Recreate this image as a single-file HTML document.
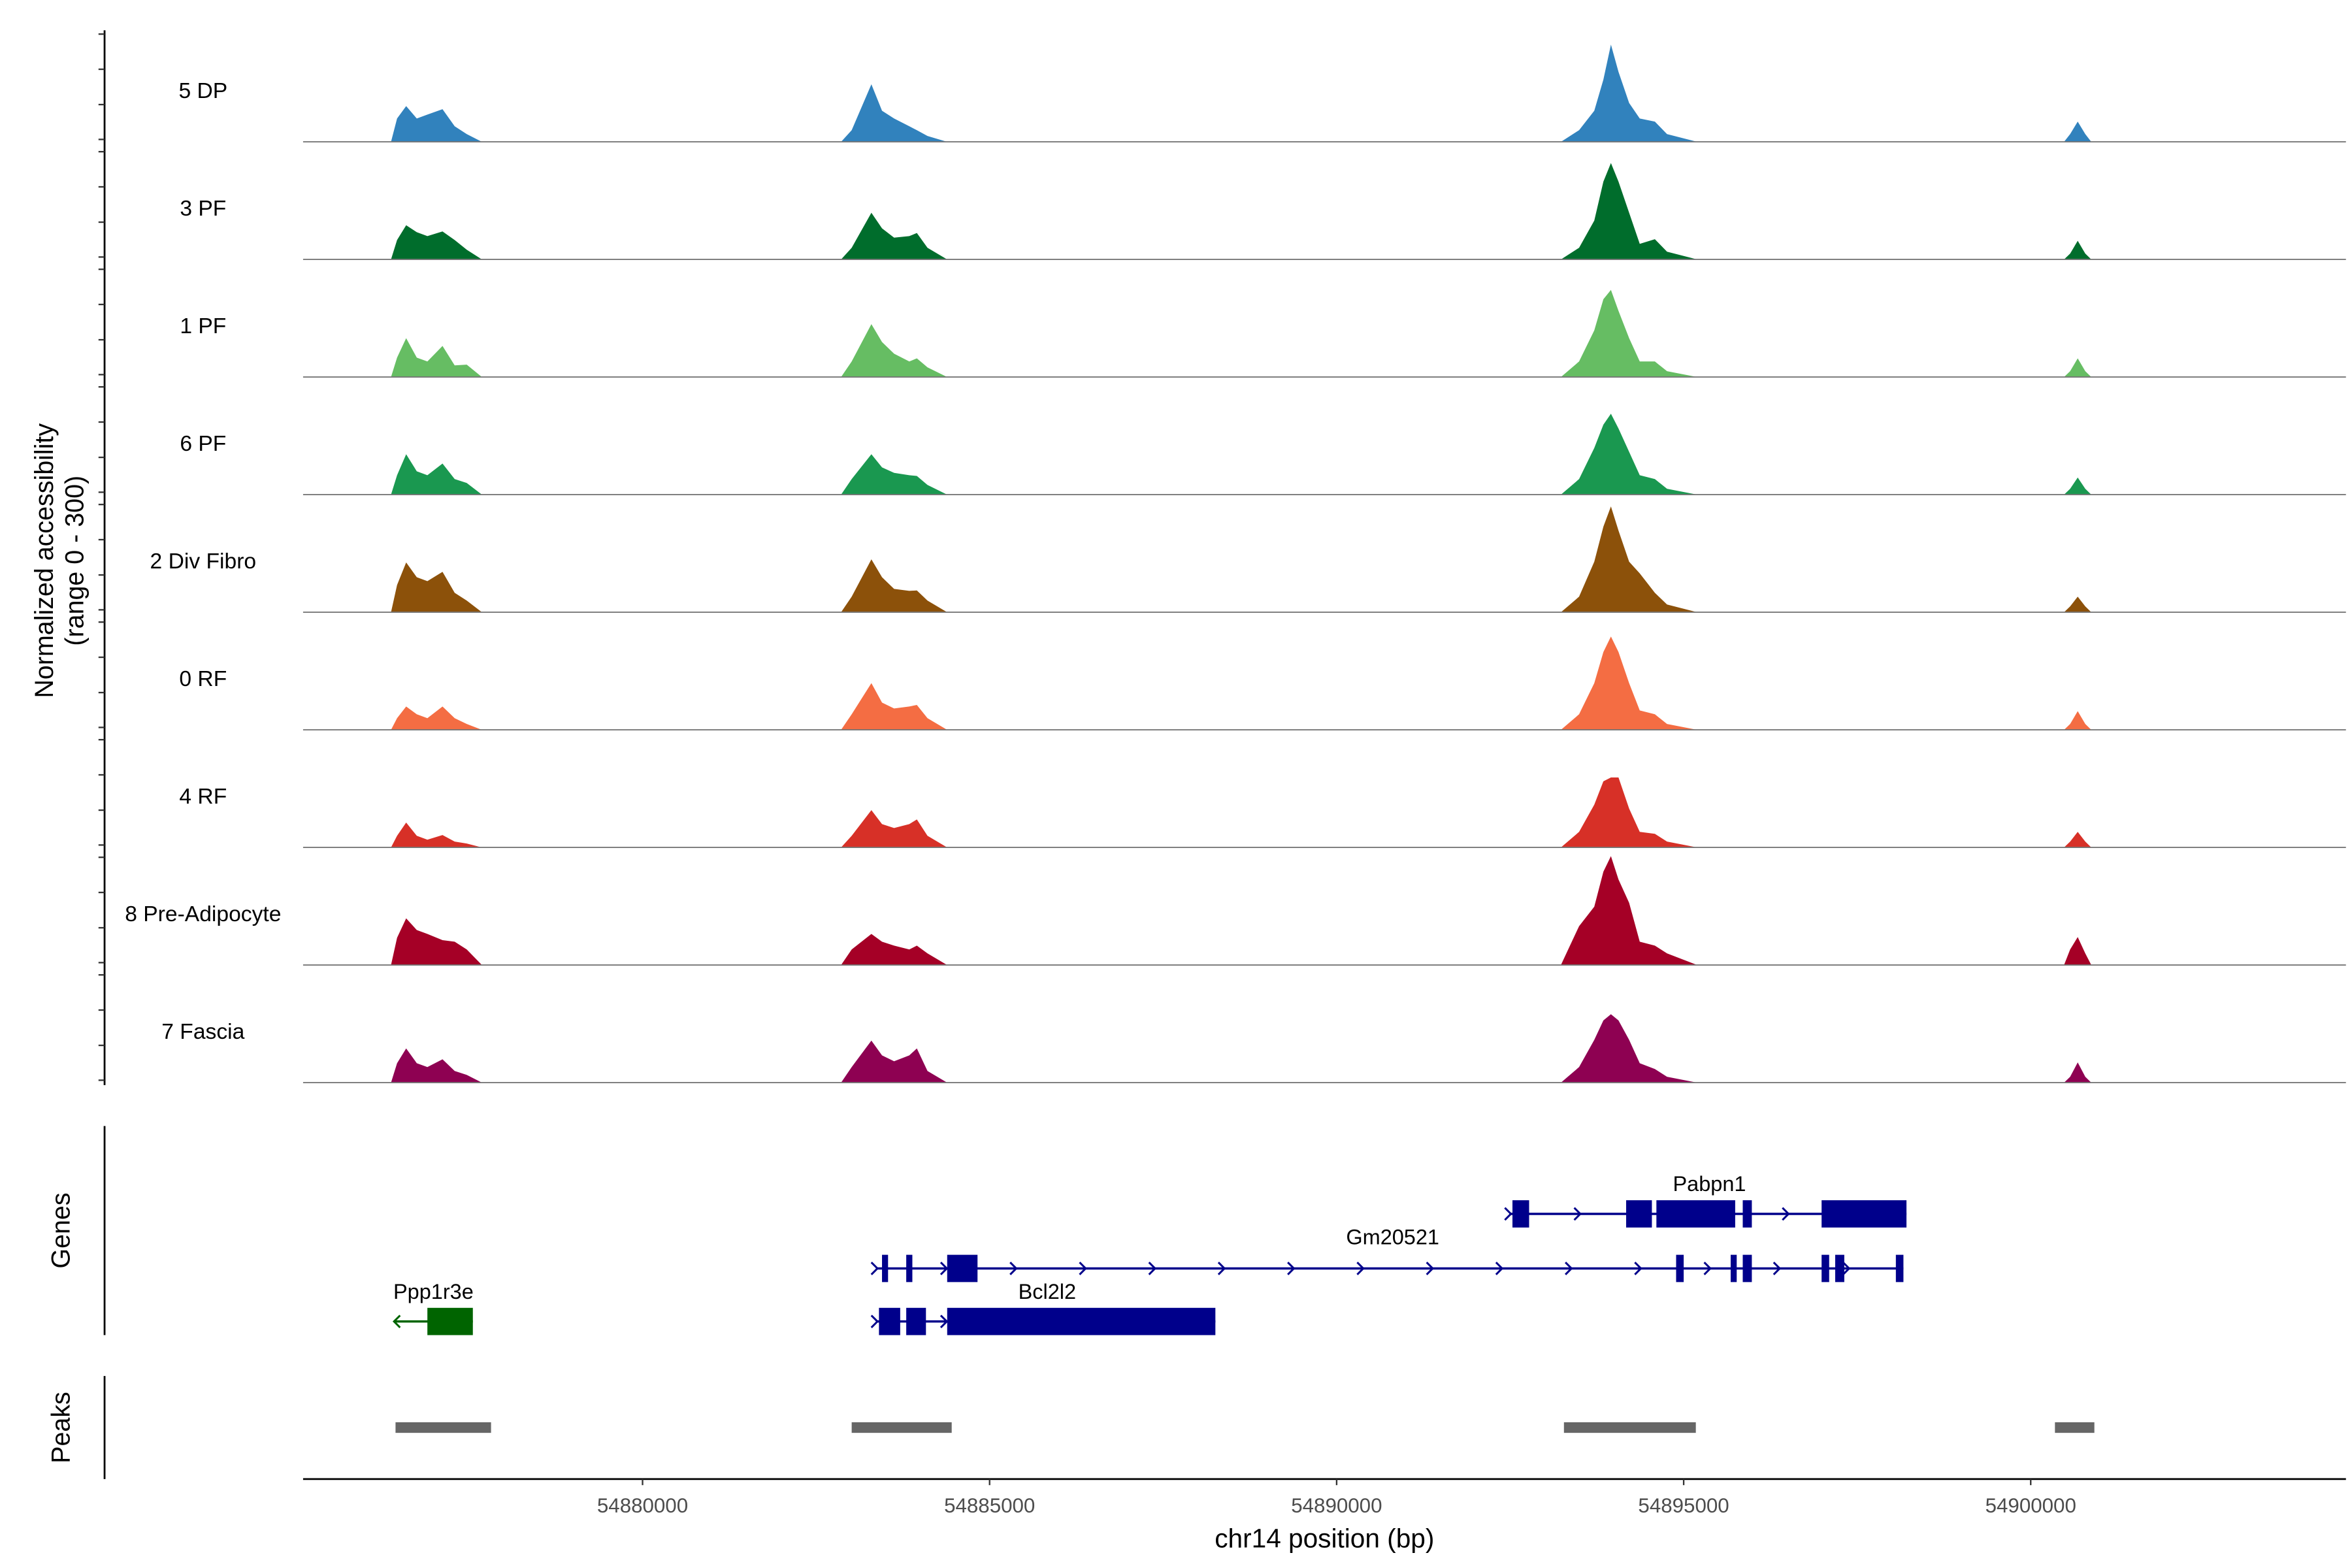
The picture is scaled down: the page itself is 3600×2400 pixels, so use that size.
<!DOCTYPE html>
<html><head><meta charset="utf-8"><style>
html,body{margin:0;padding:0;background:#fff;}
svg{display:block;font-family:"Liberation Sans",Arial,sans-serif;}
</style></head><body>
<svg id="chart" width="3600" height="2400" viewBox="0 0 1552 1034.67" preserveAspectRatio="none" xmlns="http://www.w3.org/2000/svg"></svg>
<script>
const trackNames = ["5 DP","3 PF","1 PF","6 PF","2 Div Fibro","0 RF","4 RF","8 Pre-Adipocyte","7 Fascia"];
const trackColors = ["#3182bd","#006d2c","#66bd63","#1a9850","#8c510a","#f46d43","#d73027","#a50026","#8e0152"];
const positions = [54876376,54876463,54876594,54876747,54876900,54877118,54877293,54877467,54877686,
 54882860,54883013,54883297,54883450,54883624,54883843,54883952,54884105,54884389,
 54893231,54893493,54893712,54893843,54893952,54894061,54894214,54894367,54894585,54894760,54895196,
 54900480,54900568,54900677,54900786,54900873];
const vDP  = [0,60,92,60,70,84,40,20,0, 0,30,148,80,60,40,30,15,0, 0,30,80,160,250,180,100,60,52,20,0, 0,20,52,20,0];
const vPF3 = [0,50,88,70,60,72,50,25,0, 0,30,120,80,56,60,68,30,0, 0,30,100,200,248,200,120,40,52,20,0, 0,15,48,15,0];
const vPF1 = [0,50,100,50,40,80,30,32,0, 0,40,136,90,60,40,48,25,0, 0,40,120,200,224,170,100,40,40,15,0, 0,15,48,15,0];
const vPF6 = [0,50,104,60,50,80,40,30,0, 0,40,104,70,56,50,48,25,0, 0,40,120,180,208,170,110,50,40,15,0, 0,15,44,15,0];
const vDF  = [0,70,128,90,80,104,50,30,0, 0,40,136,90,60,55,56,30,0, 0,40,130,220,272,210,130,100,50,20,0, 0,15,40,15,0];
const vRF0 = [0,30,60,40,30,60,30,15,0, 0,40,120,70,55,60,64,30,0, 0,40,120,200,240,200,120,50,40,15,0, 0,15,48,15,0];
const vRF4 = [0,30,64,30,20,32,15,10,0, 0,30,96,60,50,60,72,30,0, 0,40,110,170,180,180,100,40,35,15,0, 0,15,40,15,0];
const vPA  = [0,70,120,90,80,64,60,40,0, 0,40,80,60,50,40,50,30,0, 0,100,150,240,280,220,160,60,50,30,0, 0,40,72,30,0];
const vFA  = [0,50,88,50,40,60,30,20,0, 0,40,108,70,55,70,88,30,0, 0,40,110,160,176,160,110,50,35,15,0, 0,15,52,15,0];
const trackValues = [vDP,vPF3,vPF1,vPF6,vDF,vRF0,vRF4,vPA,vFA];
const xTicks = [54880000,54885000,54890000,54895000,54900000];
const xTickLabels = ["54880000","54885000","54890000","54895000","54900000"];
const geneNames = ["Pabpn1","Gm20521","Bcl2l2","Ppp1r3e"];
const geneSpans = [[54892489,54898210],[54883362,54898166],[54883362,54888253],[54876419,54877555]];
const geneExons = [
 [[54892533,54892773],[54894171,54894542],[54894607,54895742],[54895851,54895982],[54896987,54898210]],
 [[54883450,54883537],[54883799,54883887],[54884389,54884826],[54894891,54895000],[54895677,54895764],[54895851,54895982],[54896987,54897096],[54897183,54897314],[54898057,54898166]],
 [[54883406,54883712],[54883799,54884083],[54884389,54888253]],
 [[54876900,54877555]]];
const geneStrand = ["+","+","+","-"];
const peakStarts = [54876441,54883013,54893275,54900349];
const peakEnds = [54877817,54884454,54895175,54900917];

const svg = document.getElementById('chart');
const NS = "http://www.w3.org/2000/svg";
function mk(tag, attrs, parent){const e=document.createElementNS(NS,tag);for(const k in attrs)e.setAttribute(k,attrs[k]);(parent||svg).appendChild(e);return e;}
const X0=200, X1=1548;
function xs(bp){return 424+(bp-54880000)*(229/5000);}
const trackTop=16, trackH=77.6;
function ys(v,i){const base=trackTop+trackH*(i+1);return base - v/300*77;}

// left axis
const la=mk('line',{x1:69,x2:69,y1:20,y2:716,stroke:'#000','stroke-width':1.2});

for(let i=0;i<9;i++){
 [6.5,29.7,53,76].forEach(o=>{const t=mk('line',{x1:65,x2:69,y1:trackTop+trackH*i+o,y2:trackTop+trackH*i+o,stroke:'#333','stroke-width':1});
 });
}
const yt=mk('text',{transform:'translate(35,370) rotate(-90)','text-anchor':'middle','font-size':17});

mk('tspan',{x:0,dy:0},yt).textContent='Normalized accessibility';
mk('tspan',{x:0,dy:20},yt).textContent='(range 0 - 300)';

for(let i=0;i<9;i++){
 const base=trackTop+trackH*(i+1);
 let d='M'+xs(positions[0])+','+base;
 trackValues[i].forEach((v,j)=>{d+=' L'+xs(positions[j]).toFixed(2)+','+ys(v,i).toFixed(2);});
 d+=' L'+xs(positions[positions.length-1])+','+base+' Z';
 const a=mk('path',{d:d,fill:trackColors[i]});
 
 
 const bl=mk('line',{x1:X0,x2:X1,y1:base,y2:base,stroke:'#777','stroke-width':0.8});
 
 const lb=mk('text',{x:134,y:base-29,'text-anchor':'middle','font-size':14.5,fill:'#000'});
 lb.textContent=trackNames[i];
 
}

// genes panel
const ga=mk('line',{x1:69,x2:69,y1:743,y2:881,stroke:'#000','stroke-width':1.2});

const gt=mk('text',{transform:'translate(46,812) rotate(-90)','text-anchor':'middle','font-size':17});
gt.textContent='Genes';
const geneY=[801,837,872,872];
const labelPos=[[1128,786],[919,821],[691,857],[286,857]];
for(let g=0;g<geneNames.length;g++){
 const col=geneStrand[g]==='-'?'#006400':'#00008b';
 const y=geneY[g];
 const grp=mk('g',{});
 
 mk('line',{x1:xs(geneSpans[g][0]),x2:xs(geneSpans[g][1]),y1:y,y2:y,stroke:col,'stroke-width':1.5},grp);
 if(geneStrand[g]==='+'){
  for(let bp=geneSpans[g][0];bp<geneSpans[g][1];bp+=1000){
   const x=xs(bp);
   mk('polyline',{points:(x-3)+','+(y-4)+' '+(x+1)+','+y+' '+(x-3)+','+(y+4),fill:'none',stroke:col,'stroke-width':1.3},grp);
  }
 } else {
  const x=xs(geneSpans[g][0]);
  mk('polyline',{points:(x+4)+','+(y-4)+' '+x+','+y+' '+(x+4)+','+(y+4),fill:'none',stroke:col,'stroke-width':1.3},grp);
 }
 geneExons[g].forEach(ex=>{
  mk('rect',{x:xs(ex[0]),y:y-9,width:Math.max(1.5,xs(ex[1])-xs(ex[0])),height:18,fill:col},grp);
 });
 const t=mk('text',{x:labelPos[g][0],y:labelPos[g][1],'text-anchor':'middle','font-size':14},grp);
 t.textContent=geneNames[g];
}

// peaks panel
const pa=mk('line',{x1:69,x2:69,y1:908,y2:976,stroke:'#000','stroke-width':1.2});

const pt=mk('text',{transform:'translate(46,942) rotate(-90)','text-anchor':'middle','font-size':17});
pt.textContent='Peaks';
for(let p=0;p<peakStarts.length;p++){
 const r=mk('rect',{x:xs(peakStarts[p]),y:938.5,width:xs(peakEnds[p])-xs(peakStarts[p]),height:7,fill:'#666'});
 
}

// x axis
const xa=mk('line',{x1:X0,x2:X1,y1:976,y2:976,stroke:'#000','stroke-width':1.2});

xTicks.forEach((bp,i)=>{
 const tk=mk('line',{x1:xs(bp),x2:xs(bp),y1:976,y2:980,stroke:'#333','stroke-width':1});
 
 const tl=mk('text',{x:xs(bp),y:998,'text-anchor':'middle','font-size':13.5,fill:'#4d4d4d'});
 tl.textContent=xTickLabels[i];
 
});
const xt=mk('text',{x:874,y:1021,'text-anchor':'middle','font-size':17.5});
xt.textContent='chr14 position (bp)';

</script>
</body></html>
